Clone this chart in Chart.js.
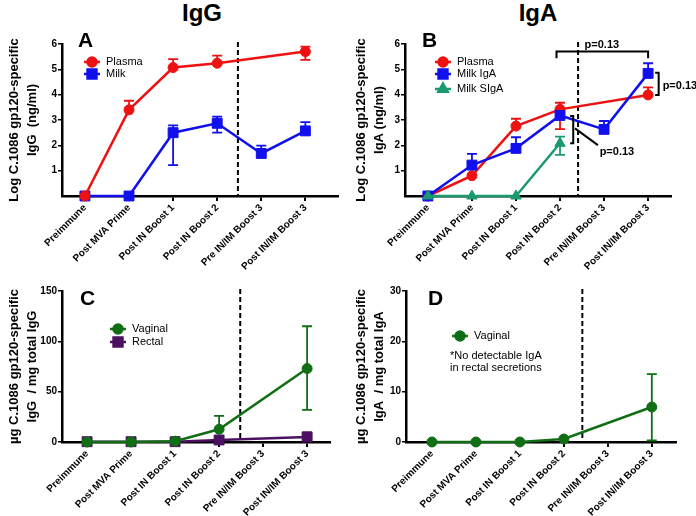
<!DOCTYPE html>
<html>
<head>
<meta charset="utf-8">
<script src="https://cdn.jsdelivr.net/npm/chart.js@4.4.1/dist/chart.umd.min.js"></script>
<style>
  body { margin: 0; background: #fff; width: 696px; height: 516px; overflow: hidden; position: relative;
         font-family: "Liberation Sans", Arial, sans-serif; }
  .big { position: absolute; top: 1px; font-size: 24px; line-height: 24px; font-weight: bold; transform: translateX(-50%); }
  canvas { position: absolute; }
</style>
</head>
<body>
<div class="big" style="left:202px">IgG</div>
<div class="big" style="left:538px">IgA</div>
<canvas id="panelA" width="348" height="290" style="left:0;top:0"></canvas>
<canvas id="panelB" width="348" height="290" style="left:348px;top:0"></canvas>
<canvas id="panelC" width="348" height="258" style="left:0;top:258px"></canvas>
<canvas id="panelD" width="348" height="258" style="left:348px;top:258px"></canvas>
<script>
const categories = ['Preimmune', 'Post MVA Prime', 'Post IN Boost 1', 'Post IN Boost 2', 'Pre IN/IM Boost 3', 'Post IN/IM Boost 3'];

// Panel A - log IgG (ng/ml)
const plasmaIgG     = [0, 3.40, 5.07, 5.24, null, 5.70];
const plasmaIgGLow  = [0, 3.40, 5.07, 5.24, null, 5.37];
const plasmaIgGHigh = [0, 3.76, 5.40, 5.54, null, 5.90];
const milkIgG       = [0, 0, 2.50, 2.87, 1.68, 2.57];
const milkIgGLow    = [0, 0, 1.22, 2.50, 1.68, 2.57];
const milkIgGHigh   = [0, 0, 2.79, 3.13, 1.99, 2.92];

// Panel B - log IgA (ng/ml)
const plasmaIgA      = [0, 0.80, 2.76, 3.42, null, 3.99];
const plasmaIgALow   = [0, 0.80, 2.76, 2.64, null, 3.99];
const plasmaIgAHigh  = [0, 0.80, 3.05, 3.68, null, 4.29];
const milkIgA        = [0, 1.22, 1.88, 3.18, 2.63, 4.84];
const milkIgALow     = [0, 1.22, 1.88, 3.18, 2.63, 4.84];
const milkIgAHigh    = [0, 1.66, 2.32, 3.40, 2.96, 5.24];
const milkSIgA       = [0, 0, 0, 2.08, null, null];
const milkSIgALow    = [0, 0, 0, 1.62, null, null];
const milkSIgAHigh   = [0, 0, 0, 2.34, null, null];

// Panel C - ug specific IgG / mg total IgG
const vaginalIgG     = [0, 0, 0.8, 12.6, null, 73];
const vaginalIgGLow  = [0, 0, 0.8, 12.6, null, 32];
const vaginalIgGHigh = [0, 0, 0.8, 26, null, 115];
const rectalIgG      = [0.3, 0.3, 0.3, 2.0, null, 5.0];
const rectalIgGLow   = [0.3, 0.3, 0.3, 2.0, null, 5.0];
const rectalIgGHigh  = [0.3, 0.3, 0.3, 2.0, null, 9.6];

// Panel D - ug specific IgA / mg total IgA
const vaginalIgA     = [0, 0, 0, 0.6, null, 6.95];
const vaginalIgALow  = [0, 0, 0, 0.6, null, 0.3];
const vaginalIgAHigh = [0, 0, 0, 0.6, null, 13.5];

const ticksLog = [1, 2, 3, 4, 5, 6];
const ticksC = [0, 50, 100, 150];
const ticksD = [0, 10, 20, 30];

const RED = '#ee1111', BLUE = '#1010ee', TEAL = '#1b9a6e', GREEN = '#106e14', PURPLE = '#4b1060';
const FONT = '"Liberation Sans", Arial, sans-serif';

// dashed divider, error bars, legend, panel letter and p-value notes
const decor = {
  id: 'decor',
  beforeDatasetsDraw(chart, args, opts) {
    const { ctx, chartArea, scales: { x, y } } = chart;
    ctx.save();
    ctx.setLineDash([5, 3]);
    ctx.lineWidth = 2;
    ctx.strokeStyle = '#000';
    const dx = x.getPixelForValue(opts.divider);
    ctx.beginPath();
    ctx.moveTo(dx, chartArea.top - 2);
    ctx.lineTo(dx, chartArea.bottom);
    ctx.stroke();
    ctx.setLineDash([]);

    chart.data.datasets.forEach(ds => {
      ctx.strokeStyle = ds.borderColor;
      ctx.lineWidth = 1.8;
      ds.data.forEach((p, i) => {
        if (p.y == null) return;
        const px = x.getPixelForValue(i);
        const lo = y.getPixelForValue(ds.errLow[i]);
        const hi = y.getPixelForValue(ds.errHigh[i]);
        ctx.beginPath();
        ctx.moveTo(px, lo); ctx.lineTo(px, hi);
        if (ds.errHigh[i] !== p.y) { ctx.moveTo(px - 5, hi); ctx.lineTo(px + 5, hi); }
        if (ds.errLow[i] !== p.y) { ctx.moveTo(px - 5, lo); ctx.lineTo(px + 5, lo); }
        ctx.stroke();
      });
    });
    ctx.restore();
  },
  afterDatasetsDraw(chart, args, opts) {
    const { ctx, scales: { x, y } } = chart;
    ctx.save();
    // panel letter
    ctx.fillStyle = '#000';
    ctx.font = 'bold 21px ' + FONT;
    ctx.textBaseline = 'alphabetic';
    ctx.fillText(opts.letter[0], opts.letter[1], opts.letter[2]);

    // legend
    ctx.font = '11px ' + FONT;
    ctx.textBaseline = 'middle';
    opts.legend.rows.forEach((row, k) => {
      const ds = chart.data.datasets[k];
      const cx = opts.legend.x, cy = row;
      ctx.strokeStyle = ds.borderColor;
      ctx.lineWidth = 2.5;
      ctx.beginPath(); ctx.moveTo(cx - 8, cy); ctx.lineTo(cx + 8, cy); ctx.stroke();
      ctx.fillStyle = ds.borderColor;
      Chart.helpers.drawPoint(ctx, { pointStyle: ds.pointStyle, radius: ds.pointRadius * 0.9, rotation: 0, borderWidth: 1 }, cx, cy);
      ctx.fillStyle = '#000';
      ctx.fillText(ds.label, cx + 14, cy);
    });
    (opts.legend.extra || []).forEach(t => ctx.fillText(t[0], t[1], t[2]));

    // annotations in data units
    ctx.strokeStyle = '#000';
    ctx.lineWidth = 2;
    ctx.font = 'bold 11px ' + FONT;
    (opts.notes || []).forEach(n => {
      if (n.pts) {
        ctx.beginPath();
        n.pts.forEach((pt, j) => {
          const px = x.getPixelForValue(pt[0]), py = y.getPixelForValue(pt[1]);
          j ? ctx.lineTo(px, py) : ctx.moveTo(px, py);
        });
        ctx.stroke();
      } else {
        ctx.textAlign = n.align;
        ctx.fillText(n.text, x.getPixelForValue(n.x), y.getPixelForValue(n.y));
      }
    });
    ctx.restore();
  }
};

function makePanel(id, cfg) {
  const tickFont = { family: FONT, size: 10, weight: 'bold' };
  return new Chart(document.getElementById(id), {
    type: 'line',
    data: {
      datasets: cfg.series.map(s => ({
        label: s.label,
        data: categories.map((c, i) => ({ x: i, y: s.values[i] })),
        errLow: s.low,
        errHigh: s.high,
        borderColor: s.color,
        backgroundColor: s.color,
        pointBackgroundColor: s.color,
        pointBorderColor: s.color,
        pointStyle: s.shape,
        pointRadius: s.radius,
        pointBorderWidth: 1,
        borderWidth: 2.5,
        spanGaps: true,
        clip: false,
        order: s.order
      }))
    },
    options: {
      responsive: false,
      animation: false,
      events: [],
      layout: { padding: { left: 0, top: cfg.padTop, right: cfg.padRight, bottom: 0 } },
      plugins: {
        legend: { display: false },
        tooltip: { enabled: false },
        decor: cfg.decor
      },
      scales: {
        x: {
          type: 'linear', min: cfg.xMin, max: cfg.xMax,
          afterBuildTicks: s => { s.ticks = categories.map((c, i) => ({ value: i })); },
          afterFit: s => { s.height = cfg.xAxisH; },
          ticks: { autoSkip: false, minRotation: 45, maxRotation: 45, font: tickFont, color: '#000', padding: 1,
                   callback: v => categories[v] },
          grid: { drawOnChartArea: false, drawTicks: true, tickLength: 5, color: '#000', lineWidth: 2 },
          border: { display: true, color: '#000', width: 2.5 }
        },
        y: {
          min: 0, max: cfg.yMax,
          afterBuildTicks: s => { s.ticks = cfg.yTicks.map(v => ({ value: v })); },
          afterFit: s => { s.width = cfg.yAxisW; },
          ticks: { font: tickFont, color: '#000', padding: 1 },
          grid: { drawOnChartArea: false, drawTicks: true, tickLength: 4, color: '#000', lineWidth: 1.5 },
          border: { display: true, color: '#000', width: 2.5 },
          title: { display: true, text: cfg.yTitle, color: '#000',
                   font: { family: FONT, size: 13, weight: 'bold', lineHeight: 18 / 13 },
                   padding: { top: cfg.titlePad, bottom: 0 } }
        }
      }
    },
    plugins: [decor]
  });
}

makePanel('panelA', {
  padTop: 44, padRight: 10, yAxisW: 62, xAxisH: 94, xMin: -0.52, xMax: 5.74,
  yMax: 6, yTicks: ticksLog, titlePad: 5,
  yTitle: ['Log C.1086 gp120-specific', 'IgG  (ng/ml)'],
  series: [
    { label: 'Plasma', values: plasmaIgG, low: plasmaIgGLow, high: plasmaIgGHigh, color: RED, shape: 'circle', radius: 5, order: 0 },
    { label: 'Milk', values: milkIgG, low: milkIgGLow, high: milkIgGHigh, color: BLUE, shape: 'rect', radius: 7, order: 1 }
  ],
  decor: { divider: 3.47, letter: ['A', 78, 47], legend: { x: 92, rows: [62, 74] } }
});

makePanel('panelB', {
  padTop: 44, padRight: 25, yAxisW: 57, xAxisH: 94, xMin: -0.52, xMax: 5.52,
  yMax: 6, yTicks: ticksLog, titlePad: 4,
  yTitle: ['Log C.1086 gp120-specific', 'IgA (ng/ml)'],
  series: [
    { label: 'Plasma', values: plasmaIgA, low: plasmaIgALow, high: plasmaIgAHigh, color: RED, shape: 'circle', radius: 5, order: 2 },
    { label: 'Milk IgA', values: milkIgA, low: milkIgALow, high: milkIgAHigh, color: BLUE, shape: 'rect', radius: 7, order: 1 },
    { label: 'Milk SIgA', values: milkSIgA, low: milkSIgALow, high: milkSIgAHigh, color: TEAL, shape: 'triangle', radius: 6, order: 0 }
  ],
  decor: {
    divider: 3.41, letter: ['B', 74, 47], legend: { x: 95, rows: [62, 74, 89] },
    notes: [
      { pts: [[2.92, 5.44], [2.92, 5.70], [5.0, 5.70], [5.0, 5.44]] },
      { text: 'p=0.13', x: 3.95, y: 5.95, align: 'center' },
      { pts: [[5.16, 4.87], [5.24, 4.87], [5.24, 3.99], [5.16, 3.99]] },
      { text: 'p=0.13', x: 5.33, y: 4.35, align: 'left' },
      { pts: [[3.23, 3.16], [3.30, 3.16], [3.30, 2.08], [3.23, 2.08]] },
      { pts: [[3.34, 2.67], [3.86, 2.01]] },
      { text: 'p=0.13', x: 3.90, y: 1.72, align: 'left' }
    ]
  }
});

makePanel('panelC', {
  padTop: 33, padRight: 18, yAxisW: 62, xAxisH: 74, xMin: -0.57, xMax: 5.52,
  yMax: 150, yTicks: ticksC, titlePad: 5,
  yTitle: ['\u00b5g C.1086 gp120-specific', 'IgG  / mg total IgG'],
  series: [
    { label: 'Vaginal', values: vaginalIgG, low: vaginalIgGLow, high: vaginalIgGHigh, color: GREEN, shape: 'circle', radius: 5, order: 0 },
    { label: 'Rectal', values: rectalIgG, low: rectalIgGLow, high: rectalIgGHigh, color: PURPLE, shape: 'rect', radius: 7, order: 1 }
  ],
  decor: { divider: 3.48, letter: ['C', 80, 47], legend: { x: 118, rows: [71, 84] } }
});

makePanel('panelD', {
  padTop: 33, padRight: 20, yAxisW: 58, xAxisH: 74, xMin: -0.59, xMax: 5.55,
  yMax: 30, yTicks: ticksD, titlePad: 4,
  yTitle: ['\u00b5g C.1086 gp120-specific', 'IgA  / mg total IgA'],
  series: [
    { label: 'Vaginal', values: vaginalIgA, low: vaginalIgALow, high: vaginalIgAHigh, color: GREEN, shape: 'circle', radius: 5, order: 0 }
  ],
  decor: {
    divider: 3.42, letter: ['D', 80, 47],
    legend: { x: 112, rows: [78], extra: [['*No detectable IgA', 102, 98], ['in rectal secretions', 102, 110]] }
  }
});
</script>
</body>
</html>
